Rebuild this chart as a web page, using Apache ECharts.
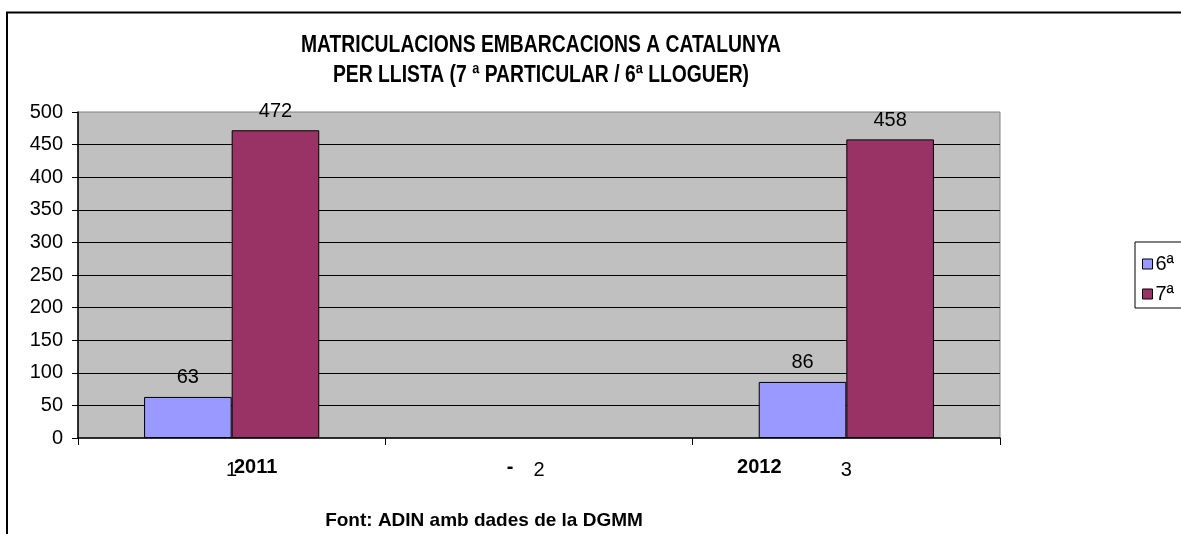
<!DOCTYPE html>
<html>
<head>
<meta charset="utf-8">
<script src="https://cdn.jsdelivr.net/npm/echarts@6/dist/echarts.min.js"></script>
<style>
  html, body { margin: 0; padding: 0; background: #fff; overflow: hidden; }
  #chart { width: 1181px; height: 534px; }
</style>
</head>
<body>
<div id="chart"></div>
<script>
// chart values
const categories = ['1', '2', '3']
const yearLabels = ['2011', '-', '2012']
const seriesNames = ['6ª', '7ª']
const llista6 = [63, null, 86]
const llista7 = [472, null, 458]
const titleLines = [
  'MATRICULACIONS EMBARCACIONS A CATALUNYA',
  'PER LLISTA (7 ª PARTICULAR / 6ª LLOGUER)',
]
const sourceNote = 'Font: ADIN amb dades de la DGMM'

const FONT = '"Liberation Sans", Arial, sans-serif'
const COLORS = { llista6: '#9999FF', llista7: '#993366', plot: '#C0C0C0' }

// horizontal shift of the bold year labels relative to each category centre
const YEAR_OFFSETS = [24, -29, -87]

const chart = echarts.init(document.getElementById('chart'), null, { renderer: 'canvas' })

const barSeries = (name, data, color) => ({
  name,
  type: 'bar',
  data,
  barGap: '0%',
  barCategoryGap: '43%',
  itemStyle: { color, borderColor: '#000', borderWidth: 1 },
  label: {
    show: true,
    position: 'top',
    distance: 9,
    color: '#000',
    fontFamily: FONT,
    fontSize: 20,
  },
})

chart.setOption({
  animation: false,
  legend: {
    orient: 'vertical',
    left: 1135,
    top: 242,
    padding: [12, 12, 4, 7],
    itemGap: 10,
    itemWidth: 10,
    itemHeight: 10,
    borderColor: '#000',
    borderWidth: 1,
    backgroundColor: '#fff',
    icon: 'rect',
    itemStyle: { borderColor: '#000', borderWidth: 1 },
    textStyle: { fontFamily: FONT, fontSize: 20, color: '#000', lineHeight: 20, padding: [0, 0, 0, -2] },
    data: seriesNames,
  },
  grid: {
    left: 78,
    right: 181,
    top: 112,
    bottom: 96,
    show: true,
    backgroundColor: COLORS.plot,
    borderColor: '#808080',
    borderWidth: 1,
  },
  xAxis: {
    type: 'category',
    data: categories,
    boundaryGap: true,
    axisLine: { lineStyle: { color: '#000', width: 1.5 } },
    axisTick: { show: true, length: 7, lineStyle: { color: '#000' } },
    axisLabel: { color: '#000', fontFamily: FONT, fontSize: 20, margin: 22 },
    splitLine: { show: false },
  },
  yAxis: {
    type: 'value',
    min: 0,
    max: 500,
    interval: 50,
    axisLine: { show: true, lineStyle: { color: '#000', width: 1.5 } },
    axisTick: { show: true, length: 6, lineStyle: { color: '#000' } },
    axisLabel: { color: '#000', fontFamily: FONT, fontSize: 20, margin: 15 },
    splitLine: { show: true, showMinLine: false, showMaxLine: false, lineStyle: { color: '#000', width: 1 } },
  },
  series: [
    barSeries(seriesNames[0], llista6, COLORS.llista6),
    barSeries(seriesNames[1], llista7, COLORS.llista7),
  ],
})

// bold year labels laid over the category axis
const yearTexts = yearLabels.map((label, i) => ({
  type: 'text',
  x: chart.convertToPixel({ xAxisIndex: 0 }, categories[i]) + YEAR_OFFSETS[i],
  y: 467,
  style: {
    text: label,
    align: 'center',
    verticalAlign: 'middle',
    font: 'bold 20px ' + FONT,
    fill: '#000',
  },
}))

chart.setOption({
  graphic: [
    // outer chart frame, runs off the right and bottom edges
    {
      type: 'rect',
      shape: { x: 7, y: 12.5, width: 1300, height: 600 },
      style: { fill: 'none', stroke: '#000', lineWidth: 2 },
      silent: true,
      z: -1,
    },
    // title, narrow bold face
    {
      type: 'text',
      x: 541,
      y: 30,
      scaleX: 0.805,
      style: {
        text: titleLines.join('\n'),
        align: 'center',
        verticalAlign: 'top',
        font: 'bold 24px ' + FONT,
        lineHeight: 30,
        fill: '#000',
      },
    },
    ...yearTexts,
    {
      type: 'text',
      x: 484,
      y: 521,
      style: {
        text: sourceNote,
        align: 'center',
        verticalAlign: 'middle',
        font: 'bold 19px ' + FONT,
        fill: '#000',
      },
    },
  ],
})

window.addEventListener('resize', () => chart.resize())
</script>
</body>
</html>
